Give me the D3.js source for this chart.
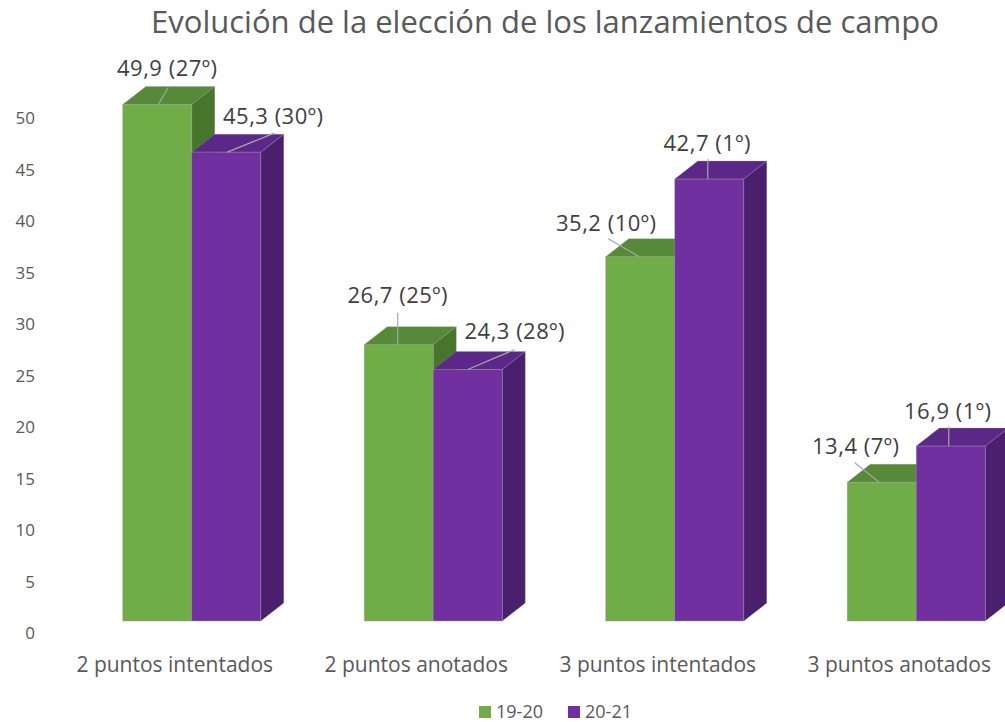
<!DOCTYPE html>
<html>
<head>
<meta charset="utf-8">
<script src="https://cdn.jsdelivr.net/npm/d3@7"></script>
<style>
  body { margin: 0; background: #fff; }
  svg { display: block; font-family: "Open Sans", sans-serif; }
</style>
</head>
<body>
<svg id="chart" width="1005" height="722"></svg>
<script>
// datos
const categories = ["2 puntos intentados", "2 puntos anotados", "3 puntos intentados", "3 puntos anotados"];
const seriesNames = ["19-20", "20-21"];
const values1920 = [49.9, 26.7, 35.2, 13.4];
const values2021 = [45.3, 24.3, 42.7, 16.9];
const ranks1920 = [27, 25, 10, 7];
const ranks2021 = [30, 28, 1, 1];
const yTicks = [0, 5, 10, 15, 20, 25, 30, 35, 40, 45, 50];

// posicion de cada etiqueta respecto al centro de la cara superior [dx, dy, lineX, lineY, endX]
const labelOffsets = [
  [[10, -36, 11, -17, 1], [47, -36, 48, -19, 1]],
  [[-1, -49, -1, -32, -1], [47, -38, 47, -20, 0]],
  [[-34, -33, -32, -18, -1], [-2, -36, -1.5, -20, -1.5]],
  [[-26, -36, -27, -19.5, -2.5], [-3, -35, -2, -19.5, -2]]
];

const colors = {
  "19-20": { front: "#70AD47", top: "#578A38", side: "#47752B" },
  "20-21": { front: "#7030A0", top: "#5B2788", side: "#4A1F6D" }
};

const depthX = 23, depthY = -18;

const svg = d3.select("#chart");

const x = d3.scaleBand()
  .domain(categories)
  .range([71, 1037])
  .paddingInner(0.4286)
  .paddingOuter(0.2143);

const xs = d3.scaleBand()
  .domain(seriesNames)
  .range([0, x.bandwidth()]);

// cara frontal
const y = d3.scaleLinear().domain([0, 50]).range([621, 103.5]);
// etiquetas del eje (pared del fondo)
const yAxisScale = d3.scaleLinear().domain([0, 50]).range([633.5, 118.3]);

// titulo
svg.append("text")
  .attr("x", 545)
  .attr("y", 22)
  .attr("text-anchor", "middle")
  .attr("dy", "0.35em")
  .attr("fill", "#595959")
  .style("font-size", "31px")
  .text("Evolución de la elección de los lanzamientos de campo");

// eje y
const yAxis = d3.axisLeft(yAxisScale).tickValues(yTicks).tickSize(0).tickPadding(0);
const gy = svg.append("g").attr("transform", "translate(35,0)").call(yAxis);
gy.select(".domain").remove();
gy.selectAll("text")
  .attr("fill", "#595959")
  .style("font-size", "17px")
  .style("font-family", "'Open Sans', sans-serif");

// barras
const bars = [];
categories.forEach((c, i) => {
  bars.push({ cat: c, s: "19-20", v: values1920[i], r: ranks1920[i], off: labelOffsets[i][0] });
  bars.push({ cat: c, s: "20-21", v: values2021[i], r: ranks2021[i], off: labelOffsets[i][1] });
});

const gBars = svg.append("g");
bars.forEach(d => {
  const x0 = x(d.cat) + xs(d.s);
  const x1 = x0 + xs.bandwidth();
  const yt = y(d.v), yb = y(0);
  const col = colors[d.s];
  const g = gBars.append("g");
  // cara superior
  g.append("path")
    .attr("d", `M${x0},${yt}L${x0 + depthX},${yt + depthY}L${x1 + depthX},${yt + depthY}L${x1},${yt}Z`)
    .attr("fill", col.top)
    .attr("stroke", "rgba(150,150,150,0.5)")
    .attr("stroke-width", 0.6);
  // lateral
  g.append("path")
    .attr("d", `M${x1},${yt}L${x1 + depthX},${yt + depthY}L${x1 + depthX},${yb + depthY}L${x1},${yb}Z`)
    .attr("fill", col.side)
    .attr("stroke", "rgba(150,150,150,0.5)")
    .attr("stroke-width", 0.6);
  // frontal
  g.append("rect")
    .attr("x", x0)
    .attr("y", yt)
    .attr("width", x1 - x0)
    .attr("height", yb - yt)
    .attr("fill", col.front)
    .attr("stroke", "rgba(150,150,150,0.6)")
    .attr("stroke-width", 0.7);
});

// etiquetas de datos
const gLabels = svg.append("g");
bars.forEach(d => {
  const cx = x(d.cat) + xs(d.s) + xs.bandwidth() / 2;
  const yt = y(d.v);
  const o = d.off;
  gLabels.append("line")
    .attr("x1", cx + o[2]).attr("y1", yt + o[3])
    .attr("x2", cx + o[4]).attr("y2", yt)
    .attr("stroke", "#A6A6A6")
    .attr("stroke-width", 1.2);
  gLabels.append("text")
    .attr("x", cx + o[0])
    .attr("y", yt + o[1])
    .attr("dy", "0.35em")
    .attr("text-anchor", "middle")
    .attr("fill", "#404040")
    .style("font-size", "22px")
    .style("letter-spacing", "0.5px")
    .text(d3.format(".1f")(d.v).replace(".", ",") + " (" + d.r + "º)");
});

// categorias
svg.append("g")
  .selectAll("text")
  .data(categories)
  .enter()
  .append("text")
  .attr("x", d => x(d) + x.bandwidth() / 2 - 17)
  .attr("y", 665)
  .attr("dy", "0.35em")
  .attr("text-anchor", "middle")
  .attr("fill", "#595959")
  .style("font-size", "21px")
  .text(d => d);

// leyenda
const legendX = [479, 568];
const lg = svg.append("g");
seriesNames.forEach((s, i) => {
  lg.append("rect")
    .attr("x", legendX[i]).attr("y", 706)
    .attr("width", 12).attr("height", 12)
    .attr("fill", colors[s].front);
  lg.append("text")
    .attr("x", legendX[i] + 17).attr("y", 712)
    .attr("dy", "0.35em")
    .attr("fill", "#595959")
    .style("font-size", "18px")
    .text(s);
});
</script>
</body>
</html>
